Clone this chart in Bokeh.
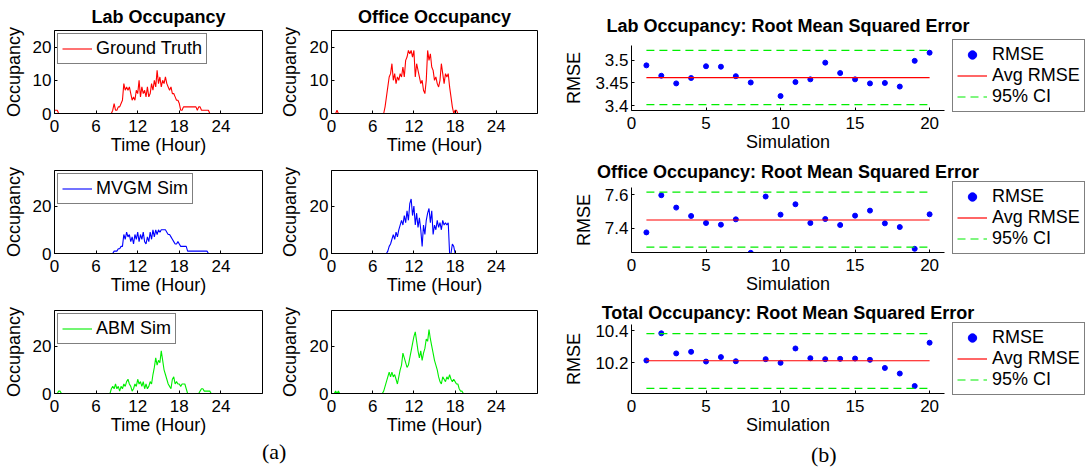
from bokeh.plotting import figure
from bokeh.models import (FixedTicker, Range1d, Legend, LegendItem, Div,
                          NumeralTickFormatter)
from bokeh.layouts import row, column
from bokeh.embed import file_html
from bokeh.resources import INLINE

FONT = "Liberation Sans"

# ---------------- data: occupancy time series (0.2 h resolution, 0..24 h) ----------------
HOURS = [round(0.2 * i, 1) for i in range(121)]

LAB_TRUTH = [
    1, 1, 1, 0, 0, 0, 0, 0, 0, 0,
    0, 0, 0, 0, 0, 0, 0, 0, 0, 0,
    0, 0, 0, 0, 0, 0, 0, 0, 0, 0,
    0, 0, 0, 0, 0, 0, 0, 0, 0, 0,
    0, 0, 1, 3, 1, 1, 2, 2, 3, 4,
    9, 7, 8, 7, 8, 6, 4, 5, 4, 7,
    6, 10, 5, 8, 6, 7, 5, 8, 5, 6,
    9, 7, 10, 8, 13, 9, 11, 8, 10, 9,
    11, 9, 8, 7, 8, 6, 6, 5, 4, 4,
    3, 1, 1, 2, 2, 2, 2, 2, 2, 2,
    2, 2, 2, 1, 2, 2, 1, 1, 1, 1,
    1, 1, 0, 0, 0, 0, 0, 0, 0, 0,
    0]
OFFICE_TRUTH = [
    0, 0, 0, 0, 1, 0, 0, 0, 0, 0,
    0, 0, 0, 0, 0, 0, 0, 0, 0, 0,
    0, 0, 0, 0, 0, 0, 0, 0, 0, 0,
    0, 0, 0, 0, 0, 0, 0, 0, 0, 2,
    5, 8, 11, 12, 15, 10, 12, 9, 11, 10,
    12, 11, 14, 11, 16, 17, 19, 18, 19, 17,
    19, 11, 15, 13, 11, 9, 10, 7, 6, 10,
    19, 16, 18, 14, 13, 10, 11, 9, 8, 10,
    15, 12, 9, 12, 11, 12, 8, 5, 2, 0,
    1, 1, 0, 0, 0, 0, 0, 0, 0, 0,
    0, 0, 0, 0, 0, 0, 0, 0, 0, 0,
    0, 0, 0, 0, 0, 0, 0, 0, 0, 0,
    0]
LAB_MVGM = [
    0, 0, 0, 0, 0, 0, 0, 0, 0, 0,
    0, 0, 0, 0, 0, 0, 0, 0, 0, 0,
    0, 0, 0, 0, 0, 0, 0, 0, 0, 0,
    0, 0, 0, 0, 0, 0, 0, 0, 0, 0,
    0, 0, 0, 1, 1, 1, 2, 2, 3, 3,
    8, 6, 9, 7, 8, 5, 7, 4, 8, 6,
    9, 5, 8, 6, 9, 5, 4, 7, 5, 9,
    6, 10, 7, 10, 8, 10, 9, 10, 10, 10,
    10, 9, 8, 8, 7, 6, 5, 4, 4, 5,
    4, 3, 3, 3, 3, 3, 1, 1, 1, 1,
    1, 1, 1, 1, 1, 1, 1, 1, 1, 1,
    1, 0, 0, 0, 0, 0, 0, 0, 0, 0,
    0]
OFFICE_MVGM = [
    0, 0, 0, 0, 0, 0, 0, 0, 0, 0,
    0, 0, 0, 0, 0, 0, 0, 0, 0, 0,
    0, 0, 0, 0, 0, 0, 0, 0, 0, 0,
    0, 0, 0, 0, 0, 0, 0, 0, 0, 0,
    0, 1, 3, 4, 6, 8, 6, 9, 7, 10,
    12, 14, 12, 16, 13, 18, 14, 21, 23, 16,
    20, 12, 17, 11, 15, 10, 3, 12, 8, 14,
    17, 19, 13, 18, 8, 12, 10, 14, 11, 13,
    10, 14, 12, 13, 12, 13, 0, 0, 4, 3,
    0, 0, 0, 0, 0, 0, 0, 0, 0, 0,
    0, 0, 0, 0, 0, 0, 0, 0, 0, 0,
    0, 0, 0, 0, 0, 0, 0, 0, 0, 0,
    0]
LAB_ABM = [
    0, 0, 0, 1, 1, 0, 0, 0, 0, 0,
    0, 0, 0, 0, 0, 0, 0, 0, 0, 0,
    0, 0, 0, 0, 0, 0, 0, 0, 0, 0,
    0, 0, 0, 0, 0, 0, 0, 0, 0, 0,
    0, 2, 3, 2, 4, 2, 3, 1, 3, 2,
    4, 3, 5, 6, 4, 3, 1, 2, 4, 3,
    6, 4, 5, 3, 5, 2, 4, 2, 3, 5,
    4, 8, 11, 15, 12, 14, 13, 18, 14, 10,
    8, 6, 4, 3, 2, 6, 7, 4, 5, 4,
    4, 3, 4, 4, 4, 2, 0, 0, 0, 0,
    0, 0, 0, 0, 0, 1, 2, 2, 1, 1,
    1, 1, 1, 0, 0, 0, 0, 0, 0, 0,
    0]
OFFICE_ABM = [
    0, 0, 0, 1, 0, 1, 0, 0, 0, 0,
    0, 0, 0, 0, 0, 0, 0, 0, 0, 0,
    0, 0, 0, 0, 0, 0, 0, 0, 0, 0,
    0, 0, 0, 0, 0, 0, 0, 0, 1, 3,
    5, 7, 9, 7, 9, 7, 8, 6, 4, 7,
    10, 12, 17, 15, 13, 11, 12, 15, 18, 21,
    24, 26, 22, 18, 15, 18, 14, 17, 19, 23,
    22, 27, 23, 20, 17, 14, 12, 10, 7, 5,
    4, 7, 6, 5, 7, 6, 8, 6, 5, 6,
    5, 4, 4, 2, 1, 1, 0, 0, 0, 0,
    0, 0, 0, 0, 0, 0, 0, 0, 0, 0,
    0, 0, 0, 0, 0, 0, 0, 0, 0, 0,
    0]

HOUR_TICKS = [0, 6, 12, 18, 24]

# ---------------- data: RMSE per simulation ----------------
NAN = float("nan")
SIMS = [1, 2, 3, 4, 5, 6, 7, 8, 9, 10, 11, 12, 13, 14, 15, 16, 17, 18, 19, 20]
LAB_RMSE = [3.489, 3.466, 3.449, 3.461, 3.487, 3.486, 3.465, 3.451, NAN, 3.421,
            3.452, 3.458, 3.495, 3.472, 3.458, 3.449, 3.450, 3.442, 3.499, 3.517]
LAB_AVG, LAB_CI = 3.462, (3.402, 3.522)
OFFICE_RMSE = [7.376, 7.598, 7.524, 7.474, 7.432, 7.422, 7.454, 7.254, 7.590, 7.482,
               7.544, 7.432, 7.456, 7.420, 7.476, 7.506, 7.430, 7.408, 7.278, 7.484]
OFFICE_AVG, OFFICE_CI = 7.45, (7.288, 7.616)
TOTAL_RMSE = [10.213, 10.383, 10.257, 10.267, 10.206, 10.234, 10.208, NAN, 10.221, 10.198,
              10.288, 10.227, 10.221, 10.223, 10.225, 10.217, 10.166, 10.131, 10.053, 10.324]
TOTAL_AVG, TOTAL_CI = 10.211, (10.038, 10.381)
SIM_TICKS = [0, 5, 10, 15, 20]

GREEN = "#00ee00"


def style_axis(ax):
    ax.axis_line_color = "black"
    ax.major_tick_line_color = "black"
    ax.major_tick_in = 3
    ax.major_tick_out = 0
    ax.minor_tick_line_color = None
    ax.major_label_text_font = FONT
    ax.major_label_text_font_size = "17px"
    ax.major_label_text_color = "black"
    ax.major_label_standoff = 3
    ax.axis_label_text_font = FONT
    ax.axis_label_text_font_size = "18px"
    ax.axis_label_text_font_style = "normal"
    ax.axis_label_text_color = "black"


def set_title(p, standoff):
    p.title.align = "center"
    p.title.text_font = FONT
    p.title.text_font_size = "18px"
    p.title.text_font_style = "bold"
    p.title.text_color = "black"
    p.title.standoff = standoff


def occ_fig(vals, color, ymax, yticks, legend_label, title, frame_w,
            b_left, b_right, b_top, lab_standoff):
    kw = dict(frame_width=frame_w, frame_height=83,
              x_range=Range1d(0, 30), y_range=Range1d(0, ymax),
              output_backend="svg", toolbar_location=None,
              min_border_left=b_left, min_border_right=b_right,
              min_border_top=b_top, min_border_bottom=0,
              background_fill_color="white", border_fill_color="white")
    if title:
        p = figure(title=title, **kw)
        set_title(p, 8)
    else:
        p = figure(title_location=None, **kw)
    p.grid.visible = False
    p.outline_line_color = "black"
    p.xaxis.ticker = FixedTicker(ticks=HOUR_TICKS)
    p.yaxis.ticker = FixedTicker(ticks=yticks)
    p.xaxis.axis_label = "Time (Hour)"
    p.yaxis.axis_label = "Occupancy"
    for ax in p.axis:
        style_axis(ax)
    p.xaxis.major_label_standoff = 6
    p.xaxis.axis_label_standoff = 0
    p.yaxis.axis_label_standoff = lab_standoff
    r = p.line(HOURS, vals, line_color=color, line_width=1.1)
    if legend_label:
        lg = Legend(items=[LegendItem(label=legend_label, renderers=[r])],
                    location="top_left", margin=3, padding=4, spacing=0,
                    glyph_width=30, glyph_height=19, label_standoff=4,
                    label_text_font=FONT, label_text_font_size="18px",
                    label_text_color="black", label_height=19,
                    border_line_color="black", border_line_width=1,
                    background_fill_color="white", background_fill_alpha=1)
        p.add_layout(lg)
    return p


def rmse_fig(title, vals, avg, ci, yr, yticks, frame_h, b_top, t_standoff):
    p = figure(title=title, frame_width=313, frame_height=frame_h,
               x_range=Range1d(0, 21), y_range=Range1d(*yr),
               output_backend="svg", toolbar_location=None,
               min_border_left=82, min_border_right=143,
               min_border_top=b_top, min_border_bottom=0,
               background_fill_color="white", border_fill_color="white")
    set_title(p, t_standoff)
    p.grid.visible = False
    p.outline_line_color = None
    p.xaxis.ticker = FixedTicker(ticks=SIM_TICKS)
    p.yaxis.ticker = FixedTicker(ticks=yticks)
    p.yaxis.formatter = NumeralTickFormatter(format="0.[00]")
    p.xaxis.axis_label = "Simulation"
    p.yaxis.axis_label = "RMSE"
    for ax in p.axis:
        style_axis(ax)
    p.xaxis.major_label_standoff = 6
    p.xaxis.axis_label_standoff = 0
    p.yaxis.axis_label_standoff = 8
    xs = [SIMS[0], SIMS[-1]]
    sc = p.scatter(SIMS, vals, size=5, fill_color="blue", line_color="blue")
    av = p.line(xs, [avg, avg], line_color="red", line_width=1.2)
    lo = p.line(xs, [ci[0], ci[0]], line_color=GREEN, line_width=1.2, line_dash="8 5")
    p.line(xs, [ci[1], ci[1]], line_color=GREEN, line_width=1.2, line_dash="8 5")
    lg = Legend(items=[LegendItem(label="RMSE", renderers=[sc]),
                       LegendItem(label="Avg RMSE", renderers=[av]),
                       LegendItem(label="95% CI", renderers=[lo])],
                location=(8, -2), padding=4, spacing=0, margin=0,
                glyph_width=30, glyph_height=21, label_standoff=5, label_height=21,
                label_text_font=FONT, label_text_font_size="18px", label_text_color="black",
                label_text_line_height=1.0,
                border_line_color="black", border_line_width=1,
                background_fill_color="white", background_fill_alpha=1)
    p.add_layout(lg, "right")
    return p


L1a = occ_fig(LAB_TRUTH, "red", 25, [0, 10, 20], "Ground Truth", "Lab Occupancy", 208, 53, 14, 30, 6)
L1b = occ_fig(OFFICE_TRUTH, "red", 25, [0, 10, 20], None, "Office Occupancy", 206, 52, 12, 30, 7)
L2a = occ_fig(LAB_MVGM, "blue", 35, [0, 20], "MVGM Sim", None, 208, 53, 14, 13, 6)
L2b = occ_fig(OFFICE_MVGM, "blue", 35, [0, 20], None, None, 206, 52, 12, 13, 7)
L3a = occ_fig(LAB_ABM, GREEN, 35, [0, 20], "ABM Sim", None, 208, 53, 14, 13, 6)
L3b = occ_fig(OFFICE_ABM, GREEN, 35, [0, 20], None, None, 206, 52, 12, 13, 7)

R1 = rmse_fig("Lab Occupancy: Root Mean Squared Error", LAB_RMSE, LAB_AVG, LAB_CI,
              (3.389, 3.533), [3.4, 3.45, 3.5], 65, 45, 20)
R2 = rmse_fig("Office Occupancy: Root Mean Squared Error", OFFICE_RMSE, OFFICE_AVG, OFFICE_CI,
              (7.256, 7.644), [7.4, 7.6], 65, 32, 11)
R3 = rmse_fig("Total Occupancy: Root Mean Squared Error", TOTAL_RMSE, TOTAL_AVG, TOTAL_CI,
              (10.006, 10.438), [10.2, 10.4], 69, 28, 4)

caption = Div(text=(
    '<div style="position:relative;width:1083px;height:30px;'
    'font-family:\'Liberation Serif\';font-size:22px;color:black;line-height:24px;">'
    '<span style="position:absolute;left:257px;top:-2px;">(a)</span>'
    '<span style="position:absolute;left:806px;top:1px;">(b)</span></div>'),
    width=1083, height=30)

left = column(row(L1a, L1b), row(L2a, L2b), row(L3a, L3b))
right = column(R1, R2, R3)
page = column(row(left, right), caption)

open("out.html", "w").write(file_html(page, INLINE))
